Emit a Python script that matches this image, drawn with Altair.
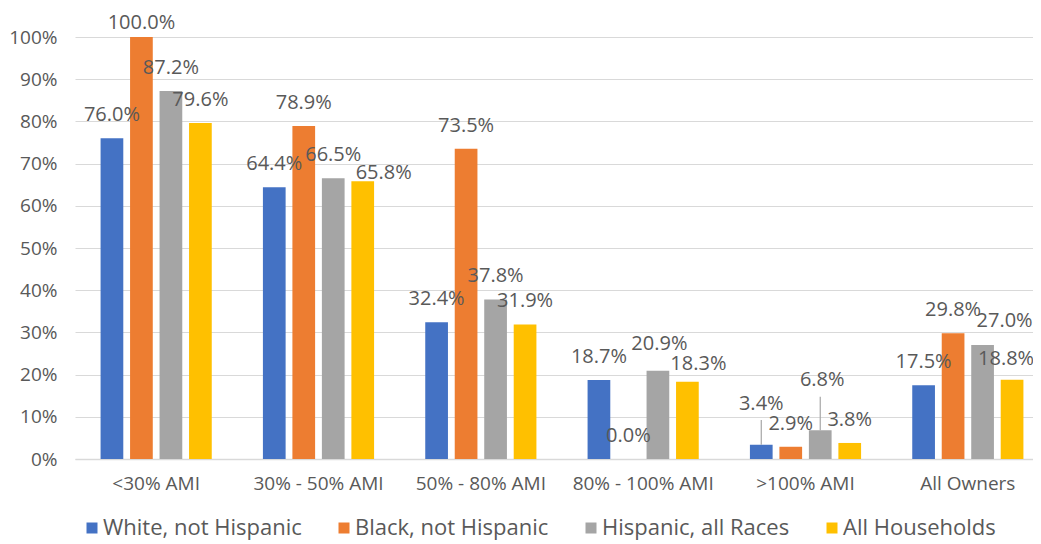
import altair as alt
import pandas as pd

categories = ["<30% AMI", "30% - 50% AMI", "50% - 80% AMI", "80% - 100% AMI", ">100% AMI", "All Owners"]
series = ["White, not Hispanic", "Black, not Hispanic", "Hispanic, all Races", "All Households"]
white = [76.0, 64.4, 32.4, 18.7, 3.4, 17.5]
black = [100.0, 78.9, 73.5, 0.0, 2.9, 29.8]
hispanic = [87.2, 66.5, 37.8, 20.9, 6.8, 27.0]
all_hh = [79.6, 65.8, 31.9, 18.3, 3.8, 18.8]
colors = ["#4472C4", "#ED7D31", "#A5A5A5", "#FFC000"]

rows = []
for s, vals in zip(series, [white, black, hispanic, all_hh]):
    for c, v in zip(categories, vals):
        rows.append({"category": c, "series": s, "value": v})
df = pd.DataFrame(rows)

FONT = "Open Sans"
TXT = "#595959"
LBL_SIZE = 20

# manual label nudges (category, series, dx, dy) like the hand-moved labels in the original
nudges = [
    ("<30% AMI", "Black, not Hispanic", 0, -14.5),
    ("30% - 50% AMI", "All Households", 21, -8),
    ("80% - 100% AMI", "Hispanic, all Races", 1.5, -27),
    ("80% - 100% AMI", "All Households", 11, -18),
    (">100% AMI", "White, not Hispanic", 0, -41),
    (">100% AMI", "Hispanic, all Races", 2, -50),
    ("All Owners", "Hispanic, all Races", 22, -24.5),
    ("All Owners", "All Households", -6, -21),
]
leaders = [(">100% AMI", "White, not Hispanic", 5.85), (">100% AMI", "Hispanic, all Races", 7.96)]

x = alt.X(
    "category:N", sort=categories,
    scale=alt.Scale(range=[0, 974], paddingInner=0, paddingOuter=0),
    axis=alt.Axis(title=None, labelAngle=0, ticks=False, domain=True, domainColor="#d9d9d9",
                  domainWidth=1.5, labelFontSize=19, labelColor=TXT, labelPadding=15,
                  labelFont=FONT, grid=False),
)
xo = alt.XOffset("series:N", sort=series, scale=alt.Scale(paddingInner=0.23, paddingOuter=0.8675))
y = alt.Y(
    "value:Q", scale=alt.Scale(domain=[0, 100], nice=False),
    axis=alt.Axis(title=None, values=list(range(0, 101, 10)), labelExpr="datum.value + '%'",
                  ticks=False, domain=False, gridColor="#d9d9d9", gridWidth=1.2,
                  labelFontSize=19, labelColor=TXT, labelPadding=18, labelFont=FONT),
)

base = alt.Chart(df)

bars = base.mark_bar().encode(
    x=x, xOffset=xo, y=y,
    color=alt.Color(
        "series:N", sort=series, scale=alt.Scale(domain=series, range=colors),
        legend=alt.Legend(title=None, orient="none", legendX=6, legendY=480, direction="horizontal",
                          symbolType="square", symbolSize=121, symbolStrokeWidth=0,
                          labelFontSize=22, labelColor=TXT, labelFont=FONT, labelLimit=0,
                          columnPadding=31, labelOffset=0),
    ),
)


def match(c, s):
    return f"(datum.category == '{c}' && datum.series == '{s}')"


special = " || ".join(match(c, s) for c, s, _, _ in nudges)
label_text = "format(datum.value, '.1f') + '%'"

layers = [bars]
layers.append(
    base.transform_filter(f"!({special})").transform_calculate(lbl=label_text)
    .mark_text(fontSize=LBL_SIZE, color=TXT, font=FONT, baseline="middle", dy=-23)
    .encode(x=alt.X("category:N", sort=categories), xOffset=alt.XOffset("series:N", sort=series),
            y=alt.Y("value:Q"), text="lbl:N")
)
for c, s, dx, dy in nudges:
    layers.append(
        base.transform_filter(match(c, s)).transform_calculate(lbl=label_text)
        .mark_text(fontSize=LBL_SIZE, color=TXT, font=FONT, baseline="middle", dx=dx, dy=dy)
        .encode(x=alt.X("category:N", sort=categories), xOffset=alt.XOffset("series:N", sort=series),
                y=alt.Y("value:Q"), text="lbl:N")
    )
for c, s, lift in leaders:
    layers.append(
        base.transform_filter(match(c, s)).transform_calculate(top=f"datum.value + {lift}")
        .mark_rule(color="#a6a6a6", strokeWidth=1.2)
        .encode(x=alt.X("category:N", sort=categories), xOffset=alt.XOffset("series:N", sort=series),
                y=alt.Y("value:Q"), y2="top:Q")
    )

chart = alt.layer(*layers).properties(
    width=958, height=422,
    autosize=alt.AutoSizeParams(type="none"),
    padding={"left": 67, "top": 29, "right": 0, "bottom": 84},
).configure_view(stroke=None)

chart.save("out.html", embed_options={"renderer": "svg", "actions": False})
